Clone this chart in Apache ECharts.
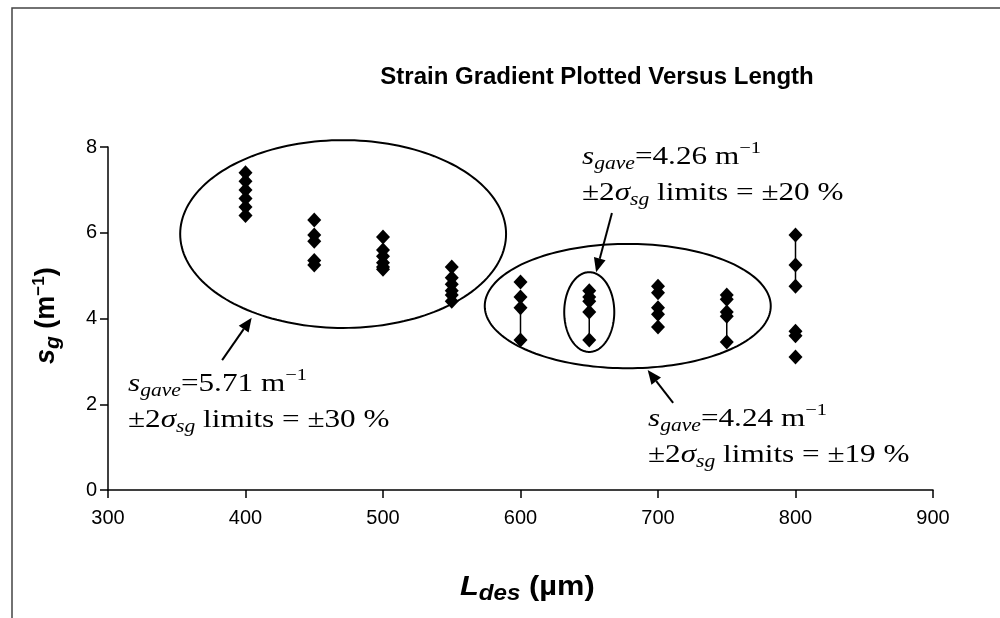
<!DOCTYPE html>
<html><head><meta charset="utf-8">
<script src="https://cdn.jsdelivr.net/npm/echarts/dist/echarts.min.js"></script>
<style>html,body{margin:0;padding:0;background:#fff}#c{width:1000px;height:618px}</style>
</head><body><div id="c"></div>
<script>
// ---- data ----
const chartTitle = 'Strain Gradient Plotted Versus Length';
const xTickMin = 300, xTickMax = 900, xTickStep = 100;
const yTickMin = 0, yTickMax = 8, yTickStep = 2;
const lengths = [400, 450, 500, 550, 600, 650, 700, 750, 800];
const sg400 = [7.4, 7.2, 7.0, 6.8, 6.6, 6.4];
const sg450 = [6.3, 5.95, 5.8, 5.35, 5.25];
const sg500 = [5.9, 5.6, 5.45, 5.3, 5.2, 5.15];
const sg550 = [5.2, 4.95, 4.8, 4.65, 4.55, 4.4];
const sg600 = [4.85, 4.5, 4.25, 3.5];
const sg650 = [4.65, 4.5, 4.4, 4.15, 3.5];
const sg700 = [4.75, 4.6, 4.25, 4.1, 3.8];
const sg750 = [4.55, 4.45, 4.15, 4.05, 3.45];
const sg800 = [5.95, 5.25, 4.75, 3.7, 3.6, 3.1];
const barLengths = [600, 650, 750, 800];
const barLow = [3.5, 3.5, 3.45, 4.75];
const barHigh = [4.25, 4.15, 4.05, 5.95];

// ---- build ----
const groups = [sg400, sg450, sg500, sg550, sg600, sg650, sg700, sg750, sg800];
const points = [];
groups.forEach((g, i) => g.forEach(v => points.push([lengths[i], v])));
const bars = barLengths.map((x, i) => [x, barLow[i], barHigh[i]]);

const SERIF = '"Liberation Serif", "Times New Roman", serif';
const SANS = '"Liberation Sans", Arial, sans-serif';

const chart = echarts.init(document.getElementById('c'), null, {renderer: 'canvas'});
chart.setOption({
  animation: false,
  backgroundColor: '#fff',
  title: {
    text: chartTitle, left: 592, top: 60, textAlign: 'center',
    textStyle: {fontFamily: SANS, fontWeight: 'bold', fontSize: 24, color: '#000'}
  },
  grid: {left: 108, right: 67, top: 147, bottom: 128, containLabel: false},
  xAxis: {
    type: 'value', min: xTickMin, max: xTickMax, interval: xTickStep,
    axisLine: {lineStyle: {color: '#000', width: 1.5}},
    axisTick: {length: 8, lineStyle: {color: '#000', width: 1.5}},
    splitLine: {show: false},
    axisLabel: {fontFamily: SANS, fontSize: 20, color: '#000', margin: 18}
  },
  yAxis: {
    type: 'value', min: yTickMin, max: yTickMax, interval: yTickStep,
    axisLine: {show: true, lineStyle: {color: '#000', width: 1.5}},
    axisTick: {show: true, length: 8, lineStyle: {color: '#000', width: 1.5}},
    splitLine: {show: false},
    axisLabel: {fontFamily: SANS, fontSize: 20, color: '#000', margin: 11}
  },
  series: [
    {
      type: 'custom', data: bars, z: 1,
      encode: {x: 0, y: [1, 2]},
      renderItem: (params, api) => {
        const a = api.coord([api.value(0), api.value(1)]);
        const b = api.coord([api.value(0), api.value(2)]);
        return {type: 'line', shape: {x1: a[0], y1: a[1], x2: b[0], y2: b[1]},
                style: {stroke: '#000', lineWidth: 1.5}};
      }
    },
    {
      type: 'scatter', data: points, z: 3,
      symbol: 'diamond', symbolSize: [14, 15],
      itemStyle: {color: '#000', opacity: 1}
    }
  ]
});

// ---- annotations ----
const toPx = (x, y) => chart.convertToPixel({gridIndex: 0}, [x, y]);
function ellipsePts(cx, cy, rx, ry) {
  const c = toPx(cx, cy), e = toPx(cx + rx, cy + ry);
  const prx = Math.abs(e[0] - c[0]), pry = Math.abs(e[1] - c[1]);
  const pts = [];
  for (let i = 0; i <= 180; i++) {
    const t = i / 180 * Math.PI * 2;
    pts.push([c[0] + prx * Math.cos(t), c[1] + pry * Math.sin(t)]);
  }
  return {type: 'polyline', shape: {points: pts}, style: {stroke: '#000', lineWidth: 2, fill: null}, z: 10};
}
function arrow(x1, y1, x2, y2) {
  const a = toPx(x1, y1), b = toPx(x2, y2);
  const dx = b[0] - a[0], dy = b[1] - a[1], L = Math.hypot(dx, dy);
  const ux = dx / L, uy = dy / L, hl = 14, hw = 6;
  const bx = b[0] - ux * hl, by = b[1] - uy * hl;
  return [
    {type: 'line', shape: {x1: a[0], y1: a[1], x2: bx, y2: by}, style: {stroke: '#000', lineWidth: 2}, z: 10},
    {type: 'polygon', shape: {points: [[b[0], b[1]], [bx - uy * hw, by + ux * hw], [bx + uy * hw, by - ux * hw]]},
     style: {fill: '#000'}, z: 10}
  ];
}
const mctx = document.createElement('canvas').getContext('2d');
function richLine(parts, x0, base, sx) {
  let cx = 0; const els = [];
  parts.forEach(p => {
    const font = `${p.it ? 'italic' : 'normal'} ${p.b ? 'bold' : 'normal'} ${p.s}px ${p.f}`;
    mctx.font = font;
    const w = mctx.measureText(p.t).width;
    els.push({type: 'text', x: cx, y: (p.dy || 0) - 0.3 * p.s, z: 10,
      style: {text: p.t, font: font, fill: '#000', textAlign: 'left', textVerticalAlign: 'middle', align: 'left', verticalAlign: 'middle'}});
    cx += w;
  });
  return {type: 'group', x: x0, y: base, scaleX: sx || 1, children: els};
}
function statBlock(x, y, avg, lim) {
  const l1 = [
    {t: 's', it: 1, s: 26, f: SERIF},
    {t: 'gave', it: 1, s: 18, f: SERIF, dy: 5},
    {t: '=' + avg + ' m', s: 26, f: SERIF},
    {t: '\u22121', s: 17, f: SERIF, dy: -11}
  ];
  const l2 = [
    {t: '\u00b12', s: 26, f: SERIF},
    {t: '\u03c3', it: 1, s: 26, f: SERIF},
    {t: 'sg', it: 1, s: 18, f: SERIF, dy: 5},
    {t: ' limits = \u00b1' + lim + ' %', s: 26, f: SERIF}
  ];
  return [richLine(l1, x, y, 1.2), richLine(l2, x, y + 36, 1.2)];
}
const xName = richLine([
  {t: 'L', it: 1, b: 1, s: 28, f: SANS},
  {t: 'des', it: 1, b: 1, s: 22, f: SANS, dy: 5},
  {t: ' (\u00b5m)', b: 1, s: 28, f: SANS}
], 460, 596, 1.1);
const yNameLine = richLine([
  {t: 's', it: 1, b: 1, s: 27, f: SANS},
  {t: 'g', it: 1, b: 1, s: 21, f: SANS, dy: 5},
  {t: ' (m', b: 1, s: 27, f: SANS},
  {t: '\u22121', b: 1, s: 17, f: SANS, dy: -11},
  {t: ')', b: 1, s: 27, f: SANS}
], 0, 0, 1);

const graphics = [
  {type: 'rect', shape: {x: 12, y: 8, width: 1000, height: 640}, style: {stroke: '#444', lineWidth: 1.5, fill: null}, z: 0},
  ellipsePts(471, 5.97, 118.5, 2.19),
  ellipsePts(678, 4.29, 104, 1.45),
  ellipsePts(650, 4.15, 18.2, 0.93),
  ...arrow(383, 3.03, 404.5, 4.02),
  ...arrow(666.5, 6.46, 655, 5.08),
  ...arrow(711, 2.03, 692.5, 2.80),
  ...statBlock(128, 392, '5.71', '30'),
  ...statBlock(582, 165, '4.26', '20'),
  ...statBlock(648, 427, '4.24', '19'),
  xName,
  {type: 'group', x: 55, y: 364, rotation: Math.PI / 2, children: [yNameLine]}
];
chart.setOption({graphic: graphics});
</script>
</body></html>
